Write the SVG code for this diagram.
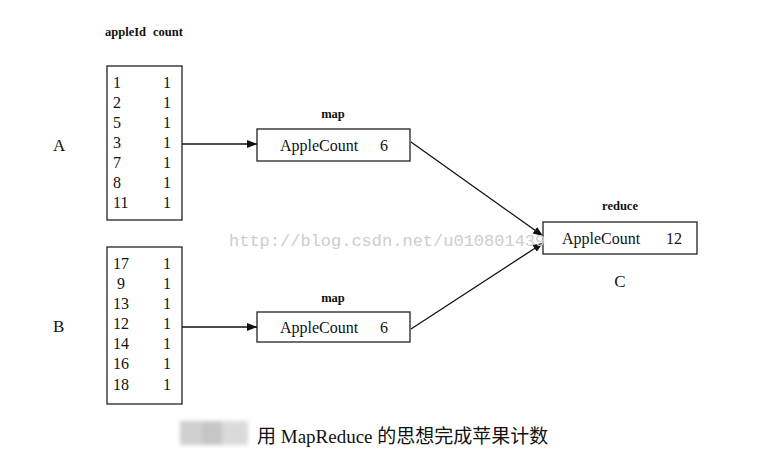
<svg xmlns="http://www.w3.org/2000/svg" width="769" height="462" viewBox="0 0 769 462">
<defs>
<marker id="ah" viewBox="0 0 10 10" refX="10" refY="5" markerWidth="10" markerHeight="10" markerUnits="userSpaceOnUse" orient="auto">
<path d="M0,1 L10,5 L0,9 Z" fill="#111"/>
</marker>
<filter id="blur"><feGaussianBlur stdDeviation="2"/></filter>
</defs>
<style>
.t{font-family:"Liberation Serif","Noto Sans CJK SC",serif;fill:#111}
.s{font-size:16px}
.sm{font-size:12.5px;font-weight:bold}
.lab{font-size:17px}
.box{fill:#fff;stroke:#222;stroke-width:1.3}
.ln{stroke:#111;stroke-width:1.3;fill:none}
.wm{font-family:"Liberation Mono",monospace;font-size:17px;fill:#cdcdcd}
</style>
<rect width="769" height="462" fill="#fff"/>
<text class="t sm" x="105" y="36">appleId</text>
<text class="t sm" x="153" y="36" font-size="13.5">count</text>
<g id="A">
<text class="t lab" x="53" y="151">A</text>
</g>
<g id="tableA">
<rect class="box" x="107" y="66" width="75" height="154"/>
<g class="t s">
<text x="113" y="88">1</text><text x="163" y="88">1</text>
<text x="113" y="108">2</text><text x="163" y="108">1</text>
<text x="113" y="128">5</text><text x="163" y="128">1</text>
<text x="113" y="148">3</text><text x="163" y="148">1</text>
<text x="113" y="168">7</text><text x="163" y="168">1</text>
<text x="113" y="188">8</text><text x="163" y="188">1</text>
<text x="113" y="208">11</text><text x="163" y="208">1</text>
</g>
</g>
<g id="B">
<text class="t lab" x="53" y="332">B</text>
</g>
<g id="tableB">
<rect class="box" x="107" y="247" width="75" height="157"/>
<g class="t s">
<text x="113" y="269">17</text><text x="163" y="269">1</text>
<text x="117" y="289">9</text><text x="163" y="289">1</text>
<text x="113" y="309">13</text><text x="163" y="309">1</text>
<text x="113" y="329">12</text><text x="163" y="329">1</text>
<text x="113" y="349">14</text><text x="163" y="349">1</text>
<text x="113" y="369">16</text><text x="163" y="369">1</text>
<text x="113" y="390">18</text><text x="163" y="390">1</text>
</g>
</g>
<g id="mapA">
<text class="t sm" x="333" y="118" text-anchor="middle">map</text>
<rect class="box" x="257" y="129" width="153" height="32"/>
<text class="t s" x="280" y="151">AppleCount</text>
<text class="t s" x="380" y="151">6</text>
</g>
<g id="mapB">
<text class="t sm" x="333" y="302" text-anchor="middle">map</text>
<rect class="box" x="257" y="312" width="153" height="30"/>
<text class="t s" x="280" y="333">AppleCount</text>
<text class="t s" x="380" y="333">6</text>
</g>
<g id="reduce">
<text class="t sm" x="620" y="210" text-anchor="middle">reduce</text>
<rect class="box" x="543" y="222" width="154" height="32"/>
<text class="t s" x="562" y="244">AppleCount</text>
<text class="t s" x="666" y="244">12</text>
<text class="t lab" x="620" y="287" text-anchor="middle">C</text>
</g>
<g id="connectors">
<line class="ln" x1="182" y1="144" x2="257" y2="144" marker-end="url(#ah)"/>
<line class="ln" x1="182" y1="327" x2="257" y2="327" marker-end="url(#ah)"/>
<line class="ln" x1="411" y1="142" x2="543" y2="236" marker-end="url(#ah)"/>
<line class="ln" x1="411" y1="329" x2="543" y2="243" marker-end="url(#ah)"/>
</g>
<text class="wm" x="229" y="246">http://blog.csdn.net/u010801439</text>
<g filter="url(#blur)">
<rect x="180" y="421" width="22" height="24" fill="#cfcfcf"/>
<rect x="202" y="421" width="20" height="24" fill="#c6c6c6"/>
<rect x="222" y="421" width="26" height="24" fill="#dadada"/>
</g>
<text class="t" x="257" y="443" font-size="19">用 MapReduce 的思想完成苹果计数</text>
</svg>
